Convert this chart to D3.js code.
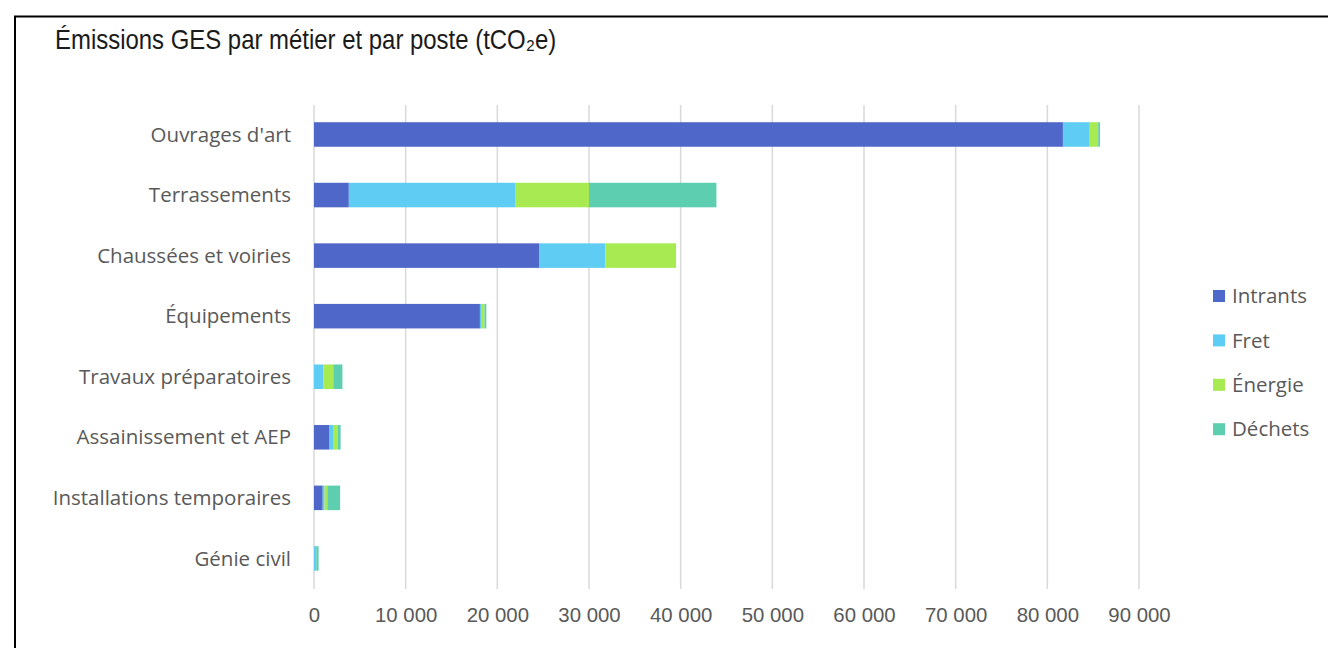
<!DOCTYPE html>
<html>
<head>
<meta charset="utf-8">
<script src="https://cdn.jsdelivr.net/npm/d3@7"></script>
<style>
  html, body { margin: 0; padding: 0; background: #ffffff; }
  svg { display: block; }
</style>
</head>
<body>
<svg id="chart" width="1328" height="648"></svg>
<script>
// Emissions by trade (tCO2e), split by emission source
const categories = [
  "Ouvrages d'art",
  "Terrassements",
  "Chaussées et voiries",
  "Équipements",
  "Travaux préparatoires",
  "Assainissement et AEP",
  "Installations temporaires",
  "Génie civil"
];
const seriesNames = ["Intrants", "Fret", "Énergie", "Déchets"];
const intrants = [81700, 3800, 24600, 18100, 0, 1700, 950, 0];
const fret     = [2850, 18200, 7200, 200, 1000, 450, 200, 250];
const energie  = [1000, 8000, 7700, 300, 1100, 450, 300, 0];
const dechets  = [200, 13900, 0, 200, 1000, 300, 1400, 250];
const tickValues = [0, 10000, 20000, 30000, 40000, 50000, 60000, 70000, 80000, 90000];
const tickLabels = ["0", "10 000", "20 000", "30 000", "40 000", "50 000", "60 000", "70 000", "80 000", "90 000"];
const colors = ["#4E67C8", "#5ECCF3", "#A7EA52", "#5DCEAF"];

const rows = categories.map((c, i) => ({
  cat: c,
  "Intrants": intrants[i],
  "Fret": fret[i],
  "Énergie": energie[i],
  "Déchets": dechets[i]
}));

const svg = d3.select("#chart");
const textColor = "#595959";

// outer frame
svg.append("rect")
  .attr("x", 15).attr("y", 16.5)
  .attr("width", 1340).attr("height", 660)
  .attr("fill", "none").attr("stroke", "#000").attr("stroke-width", 2);

// squeeze helper for condensed text
function squeeze(sel, k) {
  sel.each(function () {
    const len = this.getComputedTextLength();
    d3.select(this).attr("textLength", len * k).attr("lengthAdjust", "spacingAndGlyphs");
  });
}

// title
const title = svg.append("text")
  .attr("x", 55).attr("y", 49)
  .attr("font-family", "'Liberation Sans', Arial, sans-serif")
  .attr("font-size", 27.5)
  .attr("fill", "#1a1a1a")
  .text("Émissions GES par métier et par poste (tCO₂e)");
squeeze(title, 0.87);

// scales
const x = d3.scaleLinear().domain([0, 90000]).range([314, 1139]);
const y = d3.scaleBand().domain(categories)
  .range([104.2, 588.7]).paddingInner(0.595).paddingOuter(0.2975);

// vertical gridlines
svg.append("g").selectAll("line")
  .data(tickValues).join("line")
  .attr("x1", d => x(d)).attr("x2", d => x(d))
  .attr("y1", 105).attr("y2", 589)
  .attr("stroke", "#d9d9d9").attr("stroke-width", 1.5);

// stacked bars
const stack = d3.stack().keys(seriesNames);
const layers = stack(rows);
svg.append("g").selectAll("g")
  .data(layers).join("g")
  .attr("fill", (d, i) => colors[i])
  .selectAll("rect")
  .data(d => d).join("rect")
  .attr("x", d => x(d[0]))
  .attr("width", d => Math.max(0, x(d[1]) - x(d[0])))
  .attr("y", d => y(d.data.cat))
  .attr("height", y.bandwidth());

// x axis tick labels
const xAxis = d3.axisBottom(x)
  .tickValues(tickValues)
  .tickFormat((d, i) => tickLabels[i])
  .tickSize(0).tickPadding(0);
const gx = svg.append("g").attr("transform", "translate(0,607)").call(xAxis);
gx.select(".domain").remove();
gx.selectAll("text")
  .attr("font-family", "'Liberation Sans Narrow', 'Liberation Sans', Arial, sans-serif")
  .attr("font-size", 21)
  .attr("fill", textColor)
  .attr("dy", "0.71em");
gx.selectAll("text").call(squeeze, 0.97);

// category labels
const yAxis = d3.axisLeft(y).tickSize(0).tickPadding(0);
const gy = svg.append("g").attr("transform", "translate(291,0)").call(yAxis);
gy.select(".domain").remove();
gy.selectAll("text")
  .attr("font-family", "'Open Sans', sans-serif")
  .attr("font-size", 20.5)
  .attr("fill", textColor)
  .attr("dy", "0.35em");

// legend
const legend = svg.append("g").selectAll("g")
  .data(seriesNames).join("g")
  .attr("transform", (d, i) => `translate(1213,${296 + i * 44.4})`);
legend.append("rect")
  .attr("x", 0).attr("y", -6)
  .attr("width", 12).attr("height", 12)
  .attr("fill", (d, i) => colors[i]);
legend.append("text")
  .attr("x", 19).attr("y", 0).attr("dy", "0.35em")
  .attr("font-family", "'Open Sans', sans-serif")
  .attr("font-size", 20.5)
  .attr("fill", textColor)
  .text(d => d);
</script>
</body>
</html>
